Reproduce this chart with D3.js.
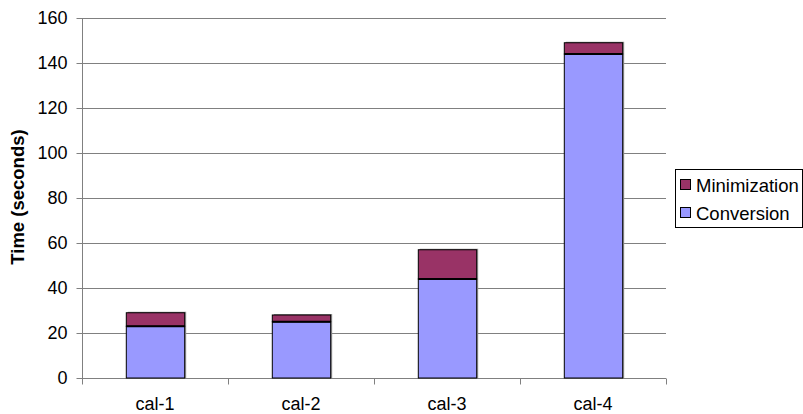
<!DOCTYPE html>
<html><head><meta charset="utf-8">
<script src="https://cdn.jsdelivr.net/npm/d3@7"></script>
<style>body{margin:0;background:#fff}svg{display:block;font-family:"Liberation Sans",Arial,sans-serif}</style>
</head><body><svg id="c" width="803" height="414"></svg>
<script>
const categories = ["cal-1","cal-2","cal-3","cal-4"];
const conversion = [23, 25, 44, 144];
const minimization = [6, 3, 13, 5];
const yTicks = [0,20,40,60,80,100,120,140,160];
const seriesNames = ["Minimization","Conversion"];
const colors = {Conversion:"#9999FF", Minimization:"#993366"};

const svg = d3.select("#c");
const L=82, R=666, T=18, B=378;
const x = d3.scaleBand().domain(categories).range([L,R]).paddingInner(0.6).paddingOuter(0.3);
const xb = d3.scaleBand().domain(categories).range([L,R]);
const y = d3.scaleLinear().domain([0,160]).range([B,T]);

// gridlines
svg.append("g").selectAll("line").data(yTicks.filter(d=>d>0)).join("line")
  .attr("x1",L).attr("x2",R).attr("y1",d=>Math.round(y(d))+0.5).attr("y2",d=>Math.round(y(d))+0.5)
  .attr("stroke","#808080").attr("stroke-width",1);

// y axis
const ya = svg.append("g").attr("transform",`translate(${L+0.5},0)`)
  .call(d3.axisLeft(y).tickValues(yTicks).tickSize(6).tickPadding(9));
ya.select(".domain").attr("stroke","#808080").attr("d",`M0,${T}V${B}`);
ya.selectAll(".tick line").attr("stroke","#808080");
ya.selectAll(".tick text").attr("font-size",18).attr("fill","#000").attr("font-family","Liberation Sans, Arial, sans-serif");

// x axis
const xa = svg.append("g").attr("transform",`translate(0,${B+0.5})`);
xa.append("line").attr("x1",L).attr("x2",R).attr("stroke","#808080");
xa.selectAll("line.t").data(categories.map((c,i)=>i).concat([categories.length])).join("line").attr("class","t")
  .attr("x1",i=>Math.round(i<categories.length?xb(categories[i]):R)+0.5)
  .attr("x2",i=>Math.round(i<categories.length?xb(categories[i]):R)+0.5)
  .attr("y1",0).attr("y2",6).attr("stroke","#808080");
xa.selectAll("text").data(categories).join("text")
  .attr("x",d=>xb(d)+xb.bandwidth()/2).attr("y",31)
  .attr("text-anchor","middle").attr("font-size",18).text(d=>d);

// bars
const data = categories.map((c,i)=>({c, conv:conversion[i], min:minimization[i]}));
const g = svg.append("g");
g.selectAll("rect.sh").data(data).join("rect").attr("class","sh")
  .attr("x",d=>x(d.c)+2).attr("y",d=>y(d.conv+d.min)-1).attr("width",x.bandwidth())
  .attr("height",d=>B-y(d.conv+d.min)+1).attr("fill","#999");
g.selectAll("rect.cv").data(data).join("rect").attr("class","cv")
  .attr("x",d=>x(d.c)+0.5).attr("y",d=>y(d.conv)).attr("width",x.bandwidth())
  .attr("height",d=>B-y(d.conv)).attr("fill",colors.Conversion).attr("stroke","#000").attr("stroke-width",1);
g.selectAll("rect.mn").data(data).join("rect").attr("class","mn")
  .attr("x",d=>x(d.c)+0.5).attr("y",d=>y(d.conv+d.min)).attr("width",x.bandwidth())
  .attr("height",d=>y(d.conv)-y(d.conv+d.min)).attr("fill",colors.Minimization).attr("stroke","#000").attr("stroke-width",1);
g.selectAll("line.div").data(data).join("line").attr("class","div")
  .attr("x1",d=>x(d.c)+0.5).attr("x2",d=>x(d.c)+x.bandwidth()+0.5)
  .attr("y1",d=>y(d.conv)).attr("y2",d=>y(d.conv)).attr("stroke","#000").attr("stroke-width",2);

// y label
svg.append("text").attr("transform",`translate(24,197) rotate(-90)`).attr("text-anchor","middle")
  .attr("font-size",18.5).attr("font-weight","bold").text("Time (seconds)");

// legend
const lg = svg.append("g");
lg.append("rect").attr("x",675.5).attr("y",169.5).attr("width",127).attr("height",58)
  .attr("fill","#fff").attr("stroke","#000");
seriesNames.forEach((s,i)=>{
  const cy = 185 + i*28;
  lg.append("rect").attr("x",680.5).attr("y",cy-5.5).attr("width",10).attr("height",10)
    .attr("fill",colors[s]).attr("stroke","#000");
  lg.append("text").attr("x",696).attr("y",cy+6.5).attr("font-size",18.5).text(s);
});
</script></body></html>
